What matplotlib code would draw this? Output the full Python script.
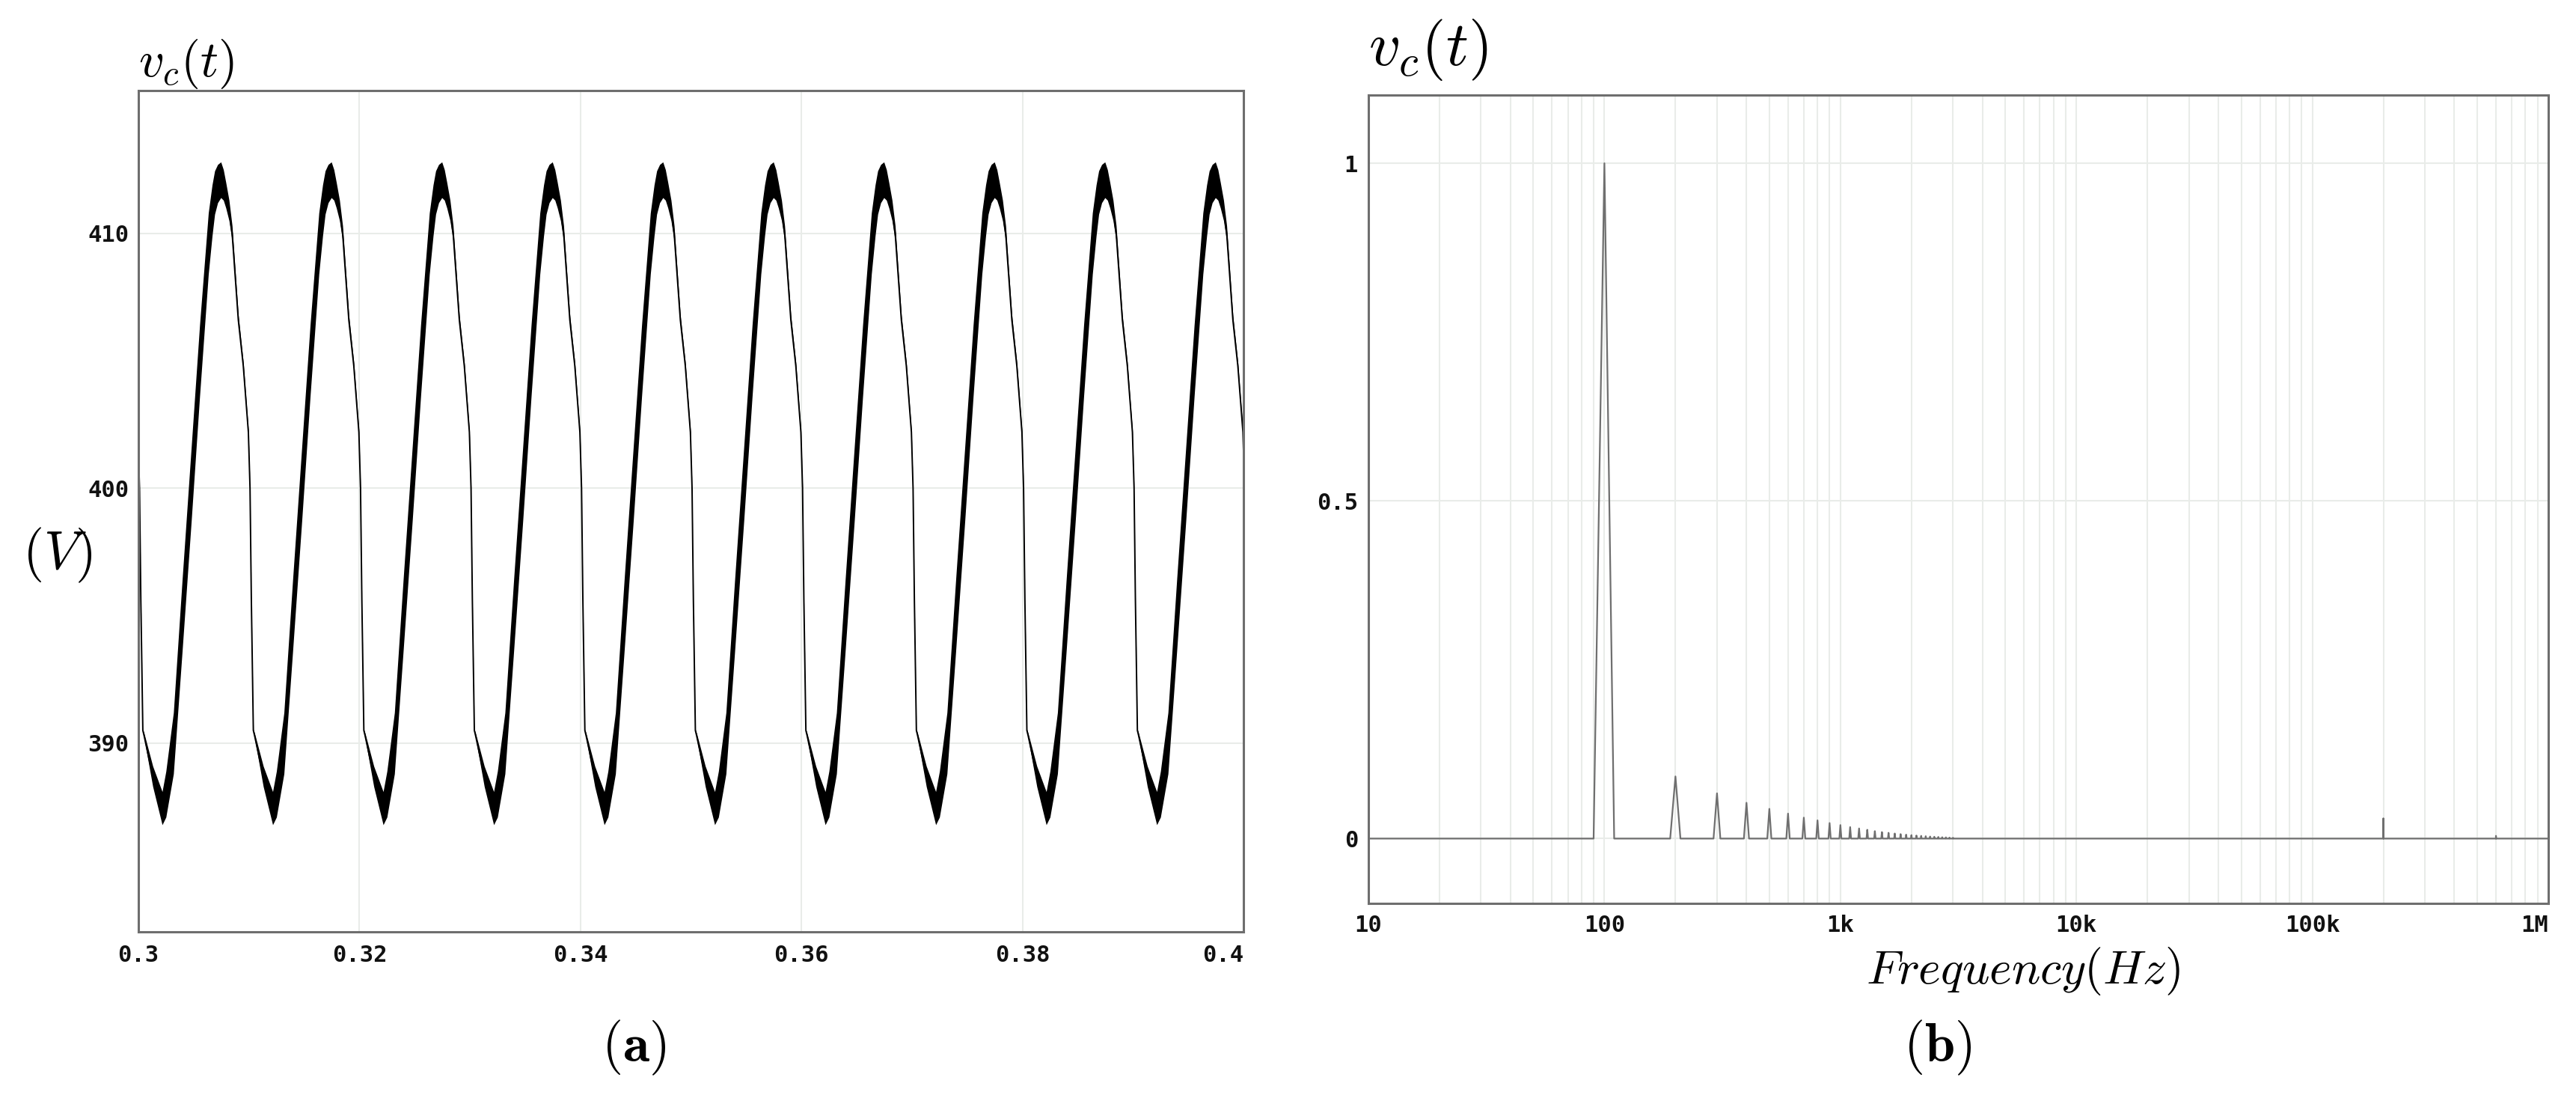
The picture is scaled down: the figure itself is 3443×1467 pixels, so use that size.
import numpy as np
import matplotlib
matplotlib.use('Agg')
from matplotlib import pyplot as plt
from matplotlib.ticker import FixedLocator, LogLocator, NullFormatter

plt.rcParams['mathtext.fontset'] = 'cm'

W, H = 3443, 1467

# (a) capacitor voltage: one 100 Hz period, phase 0 at the trough
period_s = 0.01
first_trough_s = 0.30215
phase_ms = [0, 0.34, 1.02, 1.81, 2.64, 3.39, 4.18, 4.52, 4.75, 5.02, 5.31, 5.54,
            5.76, 6.05, 6.33, 6.89, 7.34, 7.80, 7.95, 8.07, 8.25, 8.36, 9.15]
v_mid = [387.45, 388.0, 390.0, 395.0, 400.2, 405.0, 409.6, 410.9, 411.6, 411.95, 412.1, 411.9,
         411.5, 410.9, 410.0, 406.6, 404.8, 402.2, 400.0, 395.6, 390.5, 390.3, 388.7]
# half height of the switching-ripple band around v_mid
v_half = [0.65, 0.9, 1.2, 1.4, 1.45, 1.4, 1.2, 1.0, 0.85, 0.75, 0.7, 0.6,
          0.5, 0.4, 0.3, 0.2, 0.15, 0.1, 0.05, 0.05, 0.05, 0.1, 0.4]

time_ticks = [0.3, 0.32, 0.34, 0.36, 0.38, 0.4]
time_labels = ['0.3', '0.32', '0.34', '0.36', '0.38', '0.4']
volt_ticks = [390, 400, 410]

# (b) spectrum, 10 Hz bins, normalised to the 100 Hz component
bin_hz = 10
harmonic_hz = [100, 200, 300, 400, 500, 600, 700, 800, 900, 1000,
               1100, 1200, 1300, 1400, 1500, 1600, 1700, 1800, 1900, 2000,
               2100, 2200, 2300, 2400, 2500, 2600, 2700, 2800, 2900, 3000]
harmonic_amp = [1.0, 0.092, 0.067, 0.053, 0.044, 0.037, 0.031, 0.027, 0.023, 0.020,
                0.017, 0.015, 0.013, 0.011, 0.0096, 0.0085, 0.0075, 0.0066, 0.0058, 0.0051,
                0.0045, 0.004, 0.0035, 0.003, 0.0027, 0.0024, 0.002, 0.0018, 0.0015, 0.0012]
switching_hz = [200000, 600000]
switching_amp = [0.03, 0.004]

freq_ticks = [10, 100, 1e3, 1e4, 1e5, 1e6]
freq_labels = ['10', '100', '1k', '10k', '100k', '1M']
amp_ticks = [0, 0.5, 1]
amp_labels = ['0', '0.5', '1']

tick_font = dict(family='DejaVu Sans Mono', weight='bold', size=22)
spine_color = '#6e6e6e'
grid_color = '#e9ece9'

fig = plt.figure(figsize=(W / 100, H / 100), dpi=100)
ax1 = fig.add_axes([185 / W, 1 - 1245 / H, (1662 - 185) / W, (1245 - 121) / H])
ax2 = fig.add_axes([1829 / W, 1 - 1207 / H, (3406 - 1829) / W, (1207 - 127) / H])

# ---- (a)
t = np.concatenate([first_trough_s + k * period_s + np.array(phase_ms) / 1000
                    for k in range(-1, 11)])
v = np.tile(v_mid, 12)
hw = np.tile(v_half, 12)
ax1.fill_between(t, v - hw, v + hw, color='black', lw=0)
ax1.plot(t, v, color='black', lw=1.4)
ax1.set_xlim(0.3, 0.4)
ax1.set_ylim(382.6, 415.6)
ax1.set_xticks(time_ticks)
ax1.set_xticklabels(time_labels)
ax1.set_yticks(volt_ticks)
ax1.set_yticklabels([str(x) for x in volt_ticks])
ax1.get_xticklabels()[-1].set_horizontalalignment('right')
ax1.tick_params(axis='x', length=0, pad=12)
ax1.tick_params(axis='y', length=0, pad=9)

# ---- (b)
freq = np.arange(bin_hz, 1e6 + bin_hz, bin_hz)
amp = np.zeros_like(freq)
for f, a in zip(harmonic_hz + switching_hz, harmonic_amp + switching_amp):
    amp[int(round(f / bin_hz)) - 1] = a
ax2.plot(freq, amp, color='#6f6f6f', lw=1.6)
ax2.set_xscale('log')
ax2.set_xlim(10, 1e6)
ax2.set_ylim(-0.096, 1.101)
ax2.xaxis.set_major_locator(FixedLocator(freq_ticks))
ax2.set_xticklabels(freq_labels)
ax2.xaxis.set_minor_locator(LogLocator(base=10, subs=np.arange(2, 10)))
ax2.xaxis.set_minor_formatter(NullFormatter())
ax2.set_yticks(amp_ticks)
ax2.set_yticklabels(amp_labels)
ax2.get_xticklabels()[-1].set_horizontalalignment('right')
ax2.tick_params(axis='x', which='both', length=0, pad=11)
ax2.tick_params(axis='y', length=0, pad=10)
ax2.grid(True, which='minor', axis='x', color=grid_color, lw=1.5)

for ax in (ax1, ax2):
    ax.grid(True, which='major', color=grid_color, lw=1.5)
    ax.set_axisbelow(True)
    for s in ax.spines.values():
        s.set_color(spine_color)
        s.set_linewidth(2.2)
    for lbl in ax.get_xticklabels() + ax.get_yticklabels():
        lbl.set_fontproperties(tick_font)
        lbl.set_color('#111111')

fig.text(185 / W, 1 - 121 / H, r'$v_c(t)$', ha='left', va='bottom', fontsize=48)
fig.text(1829 / W, 1 - 110 / H, r'$v_c(t)$', ha='left', va='bottom', fontsize=60)
fig.text(77 / W, 1 - 742 / H, r'$(V)$', ha='center', va='center', fontsize=52)
fig.text(2704 / W, 1 - 1297 / H, r'$Frequency(Hz)$', ha='center', va='center', fontsize=46)
fig.text(847 / W, 1 - 1400 / H, r'$(\mathbf{a})$', ha='center', va='center', fontsize=52)
fig.text(2590 / W, 1 - 1400 / H, r'$(\mathbf{b})$', ha='center', va='center', fontsize=52)

fig.savefig('out.png', dpi=100)
plt.close(fig)
